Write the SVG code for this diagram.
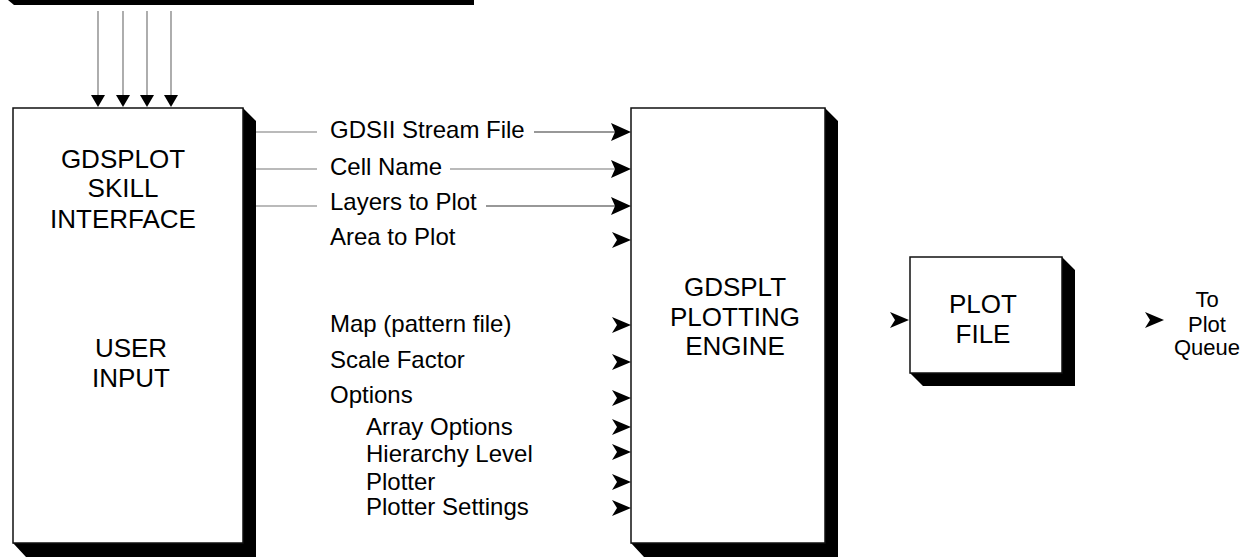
<svg xmlns="http://www.w3.org/2000/svg" xmlns:xlink="http://www.w3.org/1999/xlink" width="1248" height="557" viewBox="0 0 1248 557">
<style>
.box{fill:#fff;stroke:#111;stroke-width:1.5}
.shadow{fill:#000}
.head{font-family:"Liberation Sans",Arial,sans-serif;font-size:26px;fill:#000;text-anchor:middle}
.lbl{font-family:"Liberation Sans",Arial,sans-serif;font-size:24px;fill:#000}
.q{font-family:"Liberation Sans",Arial,sans-serif;font-size:22px;fill:#000;text-anchor:middle}
.ln{stroke:#777;stroke-width:1.2;fill:none}
.ln2{stroke:#333;stroke-width:1.2;fill:none}
</style>
<defs>
<path id="big" d="M-20,-9 L0,0 L-20,9 L-16,0 Z" fill="#000"/>
<path id="sm" d="M-19,-8 L0,0 L-19,8 L-14,0 Z" fill="#000"/>
<path id="down" d="M-7,-12 L7,-12 L0,0 Z" fill="#000"/>
</defs>

<polygon class="shadow" points="8,0 474,0 474,5 14,5"/>

<g id="user-input">
<polygon class="shadow" points="243,108 256,121 256,557 26,557 13,543 243,543"/>
<rect class="box" x="13" y="108" width="230" height="435"/>
<text class="head" x="123" y="168">GDSPLOT</text>
<text class="head" x="123" y="197">SKILL</text>
<text class="head" x="123" y="228">INTERFACE</text>
<text class="head" x="131" y="357">USER</text>
<text class="head" x="131" y="387">INPUT</text>
</g>

<g id="plotting-engine">
<polygon class="shadow" points="825,108 838,121 838,557 644,557 631,543 825,543"/>
<rect class="box" x="631" y="108" width="194" height="435"/>
<text class="head" x="735" y="296">GDSPLT</text>
<text class="head" x="735" y="326">PLOTTING</text>
<text class="head" x="735" y="355">ENGINE</text>
</g>

<g id="plot-file">
<polygon class="shadow" points="1062,257 1075,270 1075,386 923,386 910,373 1062,373"/>
<rect class="box" x="910" y="257" width="152" height="116"/>
<text class="head" x="983" y="313">PLOT</text>
<text class="head" x="983" y="343">FILE</text>
</g>

<g id="plot-queue">
<text class="q" x="1207" y="307">To</text>
<text class="q" x="1207" y="332">Plot</text>
<text class="q" x="1207" y="355">Queue</text>
</g>

<g id="labels">
<text class="lbl" x="330" y="138">GDSII Stream File</text>
<text class="lbl" x="330" y="175">Cell Name</text>
<text class="lbl" x="330" y="210">Layers to Plot</text>
<text class="lbl" x="330" y="245">Area to Plot</text>
<text class="lbl" x="330" y="332">Map (pattern file)</text>
<text class="lbl" x="330" y="368">Scale Factor</text>
<text class="lbl" x="330" y="403">Options</text>
<text class="lbl" x="366" y="435">Array Options</text>
<text class="lbl" x="366" y="462">Hierarchy Level</text>
<text class="lbl" x="366" y="490">Plotter</text>
<text class="lbl" x="366" y="515">Plotter Settings</text>
</g>

<g id="connectors">
<line class="ln" x1="98" y1="11" x2="98" y2="96"/>
<line class="ln" x1="123" y1="11" x2="123" y2="96"/>
<line class="ln" x1="147" y1="11" x2="147" y2="96"/>
<line class="ln" x1="171" y1="11" x2="171" y2="96"/>
<use xlink:href="#down" x="98" y="107"/>
<use xlink:href="#down" x="123" y="107"/>
<use xlink:href="#down" x="147" y="107"/>
<use xlink:href="#down" x="171" y="107"/>

<line class="ln" x1="256" y1="132" x2="317" y2="132"/>
<line class="ln" x1="256" y1="169" x2="317" y2="169"/>
<line class="ln" x1="256" y1="206" x2="317" y2="206"/>
<line class="ln2" x1="534" y1="132" x2="616" y2="132"/>
<line class="ln" x1="450" y1="169" x2="616" y2="169"/>
<line class="ln2" x1="486" y1="206" x2="616" y2="206"/>
<use xlink:href="#big" x="631" y="132"/>
<use xlink:href="#big" x="631" y="169"/>
<use xlink:href="#big" x="631" y="206"/>

<use xlink:href="#sm" x="631" y="240"/>
<use xlink:href="#sm" x="631" y="325"/>
<use xlink:href="#sm" x="631" y="362"/>
<use xlink:href="#sm" x="631" y="398"/>
<use xlink:href="#sm" x="631" y="427"/>
<use xlink:href="#sm" x="631" y="452"/>
<use xlink:href="#sm" x="631" y="482"/>
<use xlink:href="#sm" x="631" y="508"/>

<use xlink:href="#sm" x="909" y="320"/>
<use xlink:href="#sm" x="1164" y="320"/>
</g>
</svg>
